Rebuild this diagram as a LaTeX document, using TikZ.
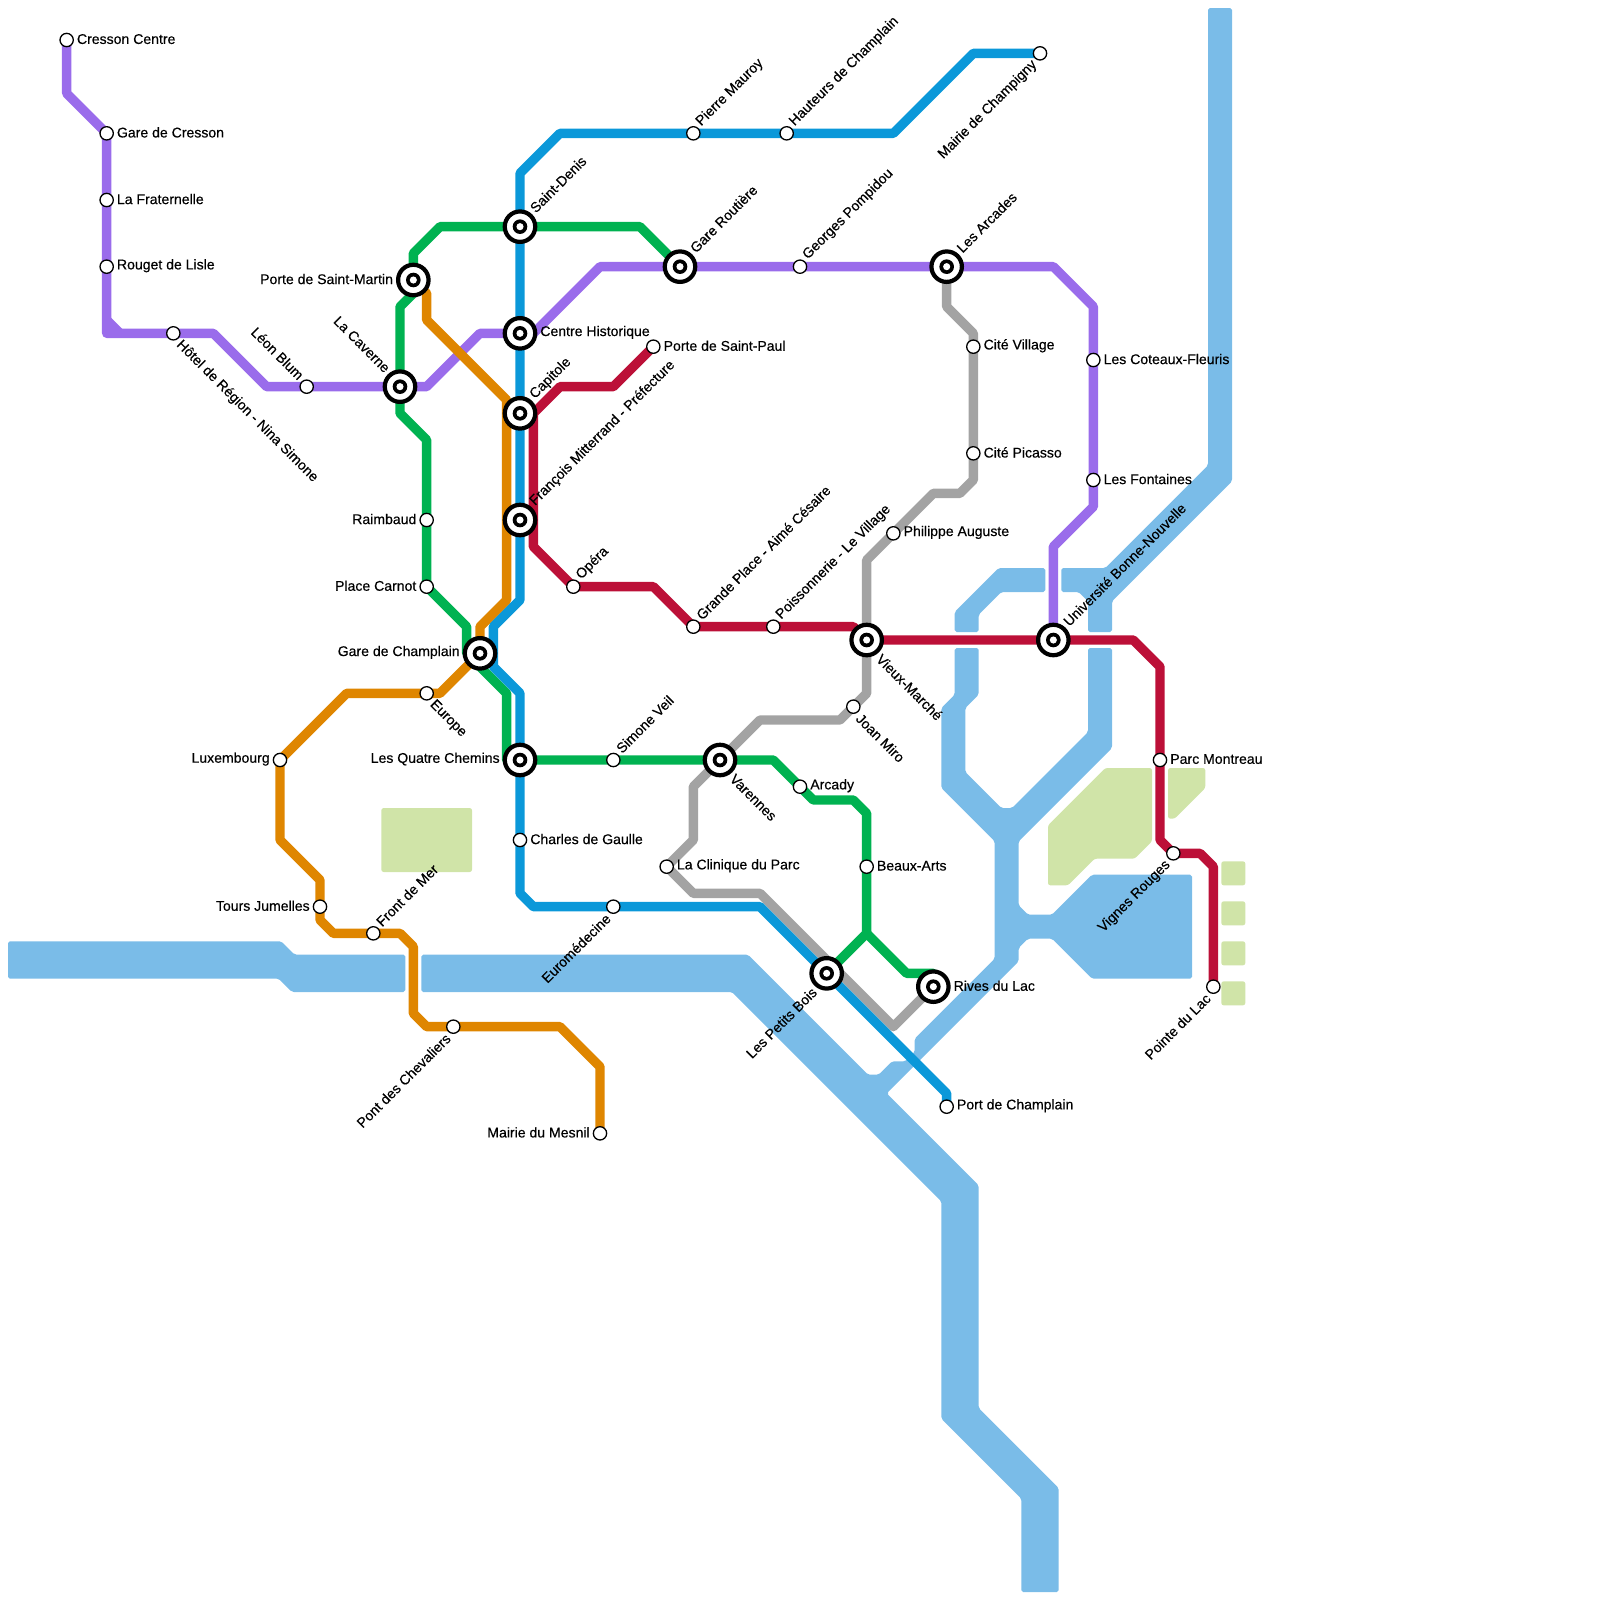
\documentclass[tikz,border=0pt]{standalone}
\usepackage{fontspec}
\setmainfont[FakeBold=0.4]{Liberation Sans}
\usetikzlibrary{backgrounds}
\definecolor{lpurple}{HTML}{9A6CEB}
\definecolor{lgreen}{HTML}{00B251}
\definecolor{lorange}{HTML}{DF8600}
\definecolor{lblue}{HTML}{0B98D9}
\definecolor{lred}{HTML}{BC1038}
\definecolor{lgray}{HTML}{A3A3A3}
\definecolor{cwater}{HTML}{7ABCE8}
\definecolor{cpark}{HTML}{D0E4A8}
\tikzset{
  metro/.style={line width=10pt, line join=round},
  water/.style={fill=cwater, rounded corners=2pt},
  park/.style={fill=cpark, rounded corners=2.5pt},
  stop/.style={circle, draw=black, fill=white, line width=1.4pt, minimum size=14.2pt, inner sep=0pt},
  hub/.style={circle, draw=black, fill=white, line width=4.5pt, minimum size=32.5pt, inner sep=0pt,
    path picture={\fill[black] (path picture bounding box.center) circle (7.8pt);
                  \fill[white] (path picture bounding box.center) circle (3.8pt);}},
  txt/.style={font=\fontsize{15pt}{17pt}\selectfont, inner sep=0pt, text=black, label distance=3pt},
  toE/.style={txt, anchor=west, yshift=1pt},
  toW/.style={txt, anchor=east, yshift=1pt},
  toNE/.style={txt, anchor=west, rotate=45, shift={(45:1.5pt)}},
  toSE/.style={txt, anchor=west, rotate=-45, shift={(-45:1.5pt)}},
  toNW/.style={txt, anchor=east, rotate=-45, shift={(135:1.5pt)}},
  toSW/.style={txt, anchor=east, rotate=45, shift={(225:1.5pt)}},
}
\begin{document}
\begin{tikzpicture}[x=5mm, y=-5mm]
    \useasboundingbox (0,0) rectangle (120,120);
    % interchanges
    \node[hub, label={[toW]180:Porte de Saint-Martin}] (stmartin) at (31,21) {};
    \node[hub, label={[toNW]135:La Caverne}] (caverne) at (30,29) {};
    \node[hub, label={[toNE]45:Saint-Denis}] (stdenis) at (39,17) {};
    \node[hub, label={[toE]0:Centre Historique}] (centre) at (39,25) {};
    \node[hub, label={[toNE]45:Capitole}] (capitole) at (39,31) {};
    \node[hub, label={[toNE]45:François Mitterrand - Préfecture}] (mitterrand) at (39,39) {};
    \node[hub, label={[toNE]45:Gare Routière}] (routiere) at (51,20) {};
    \node[hub, label={[toNE]45:Les Arcades}] (arcades) at (71,20) {};
    \node[hub, label={[toW]180:Gare de Champlain}] (champlain) at (36,49) {};
    \node[hub, label={[toW]180:Les Quatre Chemins}] (quatre) at (39,57) {};
    \node[hub, label={[toSE]-45:Varennes}] (varennes) at (54,57) {};
    \node[hub, label={[toSE]-45:Vieux-Marché}] (vieux) at (65,48) {};
    \node[hub, label={[toNE]45:Université Bonne-Nouvelle}] (univ) at (79,48) {};
    \node[hub, label={[toSW]225:Les Petits Bois}] (bois) at (62,73) {};
    \node[hub, label={[toE]0:Rives du Lac}] (rives) at (70,74) {};
    % purple stops
    \node[stop, label={[toE]0:Cresson Centre}] (cresson) at (5,3) {};
    \node[stop, label={[toE]0:Gare de Cresson}] (garecresson) at (8,10) {};
    \node[stop, label={[toE]0:La Fraternelle}] (fraternelle) at (8,15) {};
    \node[stop, label={[toE]0:Rouget de Lisle}] (rouget) at (8,20) {};
    \node[stop, label={[toSE]-45:Hôtel de Région - Nina Simone}] (region) at (13,25) {};
    \node[stop, label={[toNW]135:Léon Blum}] (blum) at (23,29) {};
    \node[stop, label={[toNE]45:Georges Pompidou}] (pompidou) at (60,20) {};
    \node[stop, label={[toE]0:Les Coteaux-Fleuris}] (coteaux) at (82,27) {};
    \node[stop, label={[toE]0:Les Fontaines}] (fontaines) at (82,36) {};
    % blue stops
    \node[stop, label={[toNE]45:Pierre Mauroy}] (mauroy) at (52,10) {};
    \node[stop, label={[toNE]45:Hauteurs de Champlain}] (hauteurs) at (59,10) {};
    \node[stop, label={[toSW]225:Mairie de Champigny}] (champigny) at (78,4) {};
    \node[stop, label={[toE]0:Charles de Gaulle}] (gaulle) at (39,63) {};
    \node[stop, label={[toSW]225:Euromédecine}] (euromed) at (46,68) {};
    \node[stop, label={[toE]0:Port de Champlain}] (port) at (71,83) {};
    % red stops
    \node[stop, label={[toE]0:Porte de Saint-Paul}] (stpaul) at (49,26) {};
    \node[stop, label={[toNE]45:Opéra}] (opera) at (43,44) {};
    \node[stop, label={[toNE]45:Grande Place - Aimé Césaire}] (grande) at (52,47) {};
    \node[stop, label={[toNE]45:Poissonnerie - Le Village}] (poisson) at (58,47) {};
    \node[stop, label={[toE]0:Parc Montreau}] (montreau) at (87,57) {};
    \node[stop, label={[toSW]225:Vignes Rouges}] (vignes) at (88,64) {};
    \node[stop, label={[toSW]225:Pointe du Lac}] (pointe) at (91,74) {};
    % gray stops
    \node[stop, label={[toE]0:Cité Village}] (village) at (73,26) {};
    \node[stop, label={[toE]0:Cité Picasso}] (picasso) at (73,34) {};
    \node[stop, label={[toE]0:Philippe Auguste}] (philippe) at (67,40) {};
    \node[stop, label={[toSE]-45:Joan Miro}] (miro) at (64,53) {};
    \node[stop, label={[toE]0:La Clinique du Parc}] (clinique) at (50,65) {};
    % green stops
    \node[stop, label={[toW]180:Raimbaud}] (raimbaud) at (32,39) {};
    \node[stop, label={[toW]180:Place Carnot}] (carnot) at (32,44) {};
    \node[stop, label={[toNE]45:Simone Veil}] (veil) at (46,57) {};
    \node[stop, label={[toE]0:Arcady}] (arcady) at (60,59) {};
    \node[stop, label={[toE]0:Beaux-Arts}] (beaux) at (65,65) {};
    % orange stops
    \node[stop, label={[toSE]-45:Europe}] (europe) at (32,52) {};
    \node[stop, label={[toW]180:Luxembourg}] (luxembourg) at (21,57) {};
    \node[stop, label={[toW]180:Tours Jumelles}] (tours) at (24,68) {};
    \node[stop, label={[toNE]45:Front de Mer}] (front) at (28,70) {};
    \node[stop, label={[toSW]225:Pont des Chevaliers}] (chevaliers) at (34,77) {};
    \node[stop, label={[toW]180:Mairie du Mesnil}] (mesnil) at (45,85) {};
    \begin{scope}[on background layer]
      % parks
      \fill[park] (28.6,60.6) -- (35.4,60.6) -- (35.4,65.4) -- (28.6,65.4) -- cycle;
      \fill[park] (78.6,61.9) -- (82.9,57.6) -- (86.4,57.6) -- (86.4,63.1) -- (85.1,64.4) -- (82.1,64.4) -- (80.1,66.4) -- (78.6,66.4) -- cycle;
      \fill[park] (87.6,57.6) -- (90.4,57.6) -- (90.4,59.1) -- (88.1,61.4) -- (87.6,61.4) -- cycle;
      \foreach \y in {64.6,67.6,70.6,73.6}
        \fill[park] (91.6,\y) rectangle (93.4,\y+1.8);
      % water
      \fill[water] (0.6,70.6) -- (21.1,70.6) -- (22.1,71.6) -- (30.4,71.6) -- (30.4,74.4) -- (21.9,74.4) -- (20.9,73.4) -- (0.6,73.4) -- cycle;
      \fill[water] (71.6,47.4) -- (71.6,45.9) -- (74.9,42.6) -- (78.4,42.6) -- (78.4,44.4) -- (75.1,44.4) -- (73.4,46.1) -- (73.4,47.4) -- cycle;
      \fill[water] (79.6,42.6) -- (82.9,42.6) -- (90.6,34.9) -- (90.6,0.6) -- (92.4,0.6) -- (92.4,36.1) -- (83.4,45.1) -- (83.4,47.4) -- (81.6,47.4) -- (81.6,45.1) -- (80.9,44.4) -- (79.6,44.4) -- cycle;
      \fill[water] (71.6,48.6) -- (73.4,48.6) -- (73.4,52.1) -- (72.4,53.1) -- (72.4,57.9) -- (75.1,60.6) -- (75.9,60.6) -- (81.6,54.9) -- (81.6,48.6) -- (83.4,48.6) -- (83.4,56.1) -- (76.4,63.1) -- (76.4,67.9) -- (77.1,68.6) -- (78.9,68.6) -- (81.9,65.6) -- (89.4,65.6) -- (89.4,73.4) -- (81.9,73.4) -- (78.9,70.4) -- (77.1,70.4) -- (76.4,71.1) -- (76.4,72.1) -- (66.5,82) -- (73.4,88.9) -- (73.4,105.6) -- (79.4,111.6) -- (79.4,119.4) -- (76.6,119.4) -- (76.6,112.4) -- (70.6,106.4) -- (70.6,90.1) -- (54.9,74.4) -- (31.6,74.4) -- (31.6,71.6) -- (56.1,71.6) -- (65.1,80.6) -- (65.9,80.6) -- (66.9,79.6) -- (67.9,79.6) -- (68.6,78.9) -- (68.6,77.9) -- (74.6,71.9) -- (74.6,63.1) -- (70.6,59.1) -- (70.6,53.1) -- (71.6,52.1) -- cycle;
      % lines
      \draw[metro, lpurple] (cresson.center) -- (5,7) -- (garecresson.center) -- (8,25) -- (16,25) -- (20,29) -- (caverne.center) -- (32,29) -- (36,25) -- (centre.center) -- (40,25) -- (45,20) -- (79,20) -- (82,23) -- (82,38) -- (79,41) -- (univ.center);
      \draw[metro, lpurple] (8,24) -- (9,25);
      \draw[metro, lgreen] (routiere.center) -- (48,17) -- (33,17) -- (31,19) -- (31,22) -- (30,23) -- (30,31) -- (32,33) -- (carnot.center) -- (35,47) -- (35,49) -- (38,52) -- (38,57) -- (quatre.center) -- (58,57) -- (61,60) -- (64,60) -- (65,61) -- (65,70) -- (bois.center);
      \draw[metro, lgreen] (65,70) -- (68,73) -- (70,73) -- (rives.center);
      \draw[metro, lorange] (stmartin.center) -- (32,22) -- (32,24) -- (38,30) -- (38,45) -- (36,47) -- (champlain.center) -- (33,52) -- (26,52) -- (luxembourg.center) -- (21,63) -- (24,66) -- (24,69) -- (25,70) -- (30,70) -- (31,71) -- (31,76) -- (32,77) -- (42,77) -- (45,80) -- (mesnil.center);
      \draw[metro, lgray] (arcades.center) -- (71,23) -- (73,25) -- (73,36) -- (72,37) -- (70,37) -- (65,42) -- (65,52) -- (63,54) -- (57,54) -- (52,59) -- (52,63) -- (clinique.center) -- (52,67) -- (57,67) -- (67,77) -- (rives.center);
      \draw[metro, lblue] (champigny.center) -- (73,4) -- (67,10) -- (42,10) -- (39,13) -- (39,45) -- (37,47) -- (37,50) -- (39,52) -- (39,67) -- (40,68) -- (57,68) -- (71,82) -- (port.center);
      \draw[metro, lred] (stpaul.center) -- (46,29) -- (42,29) -- (40,31) -- (40,41) -- (opera.center) -- (49,44) -- (grande.center) -- (64,47) -- (vieux.center) -- (85,48) -- (87,50) -- (87,63) -- (vignes.center) -- (90,64) -- (91,65) -- (pointe.center);
    \end{scope}
  \end{tikzpicture}
\end{document}
